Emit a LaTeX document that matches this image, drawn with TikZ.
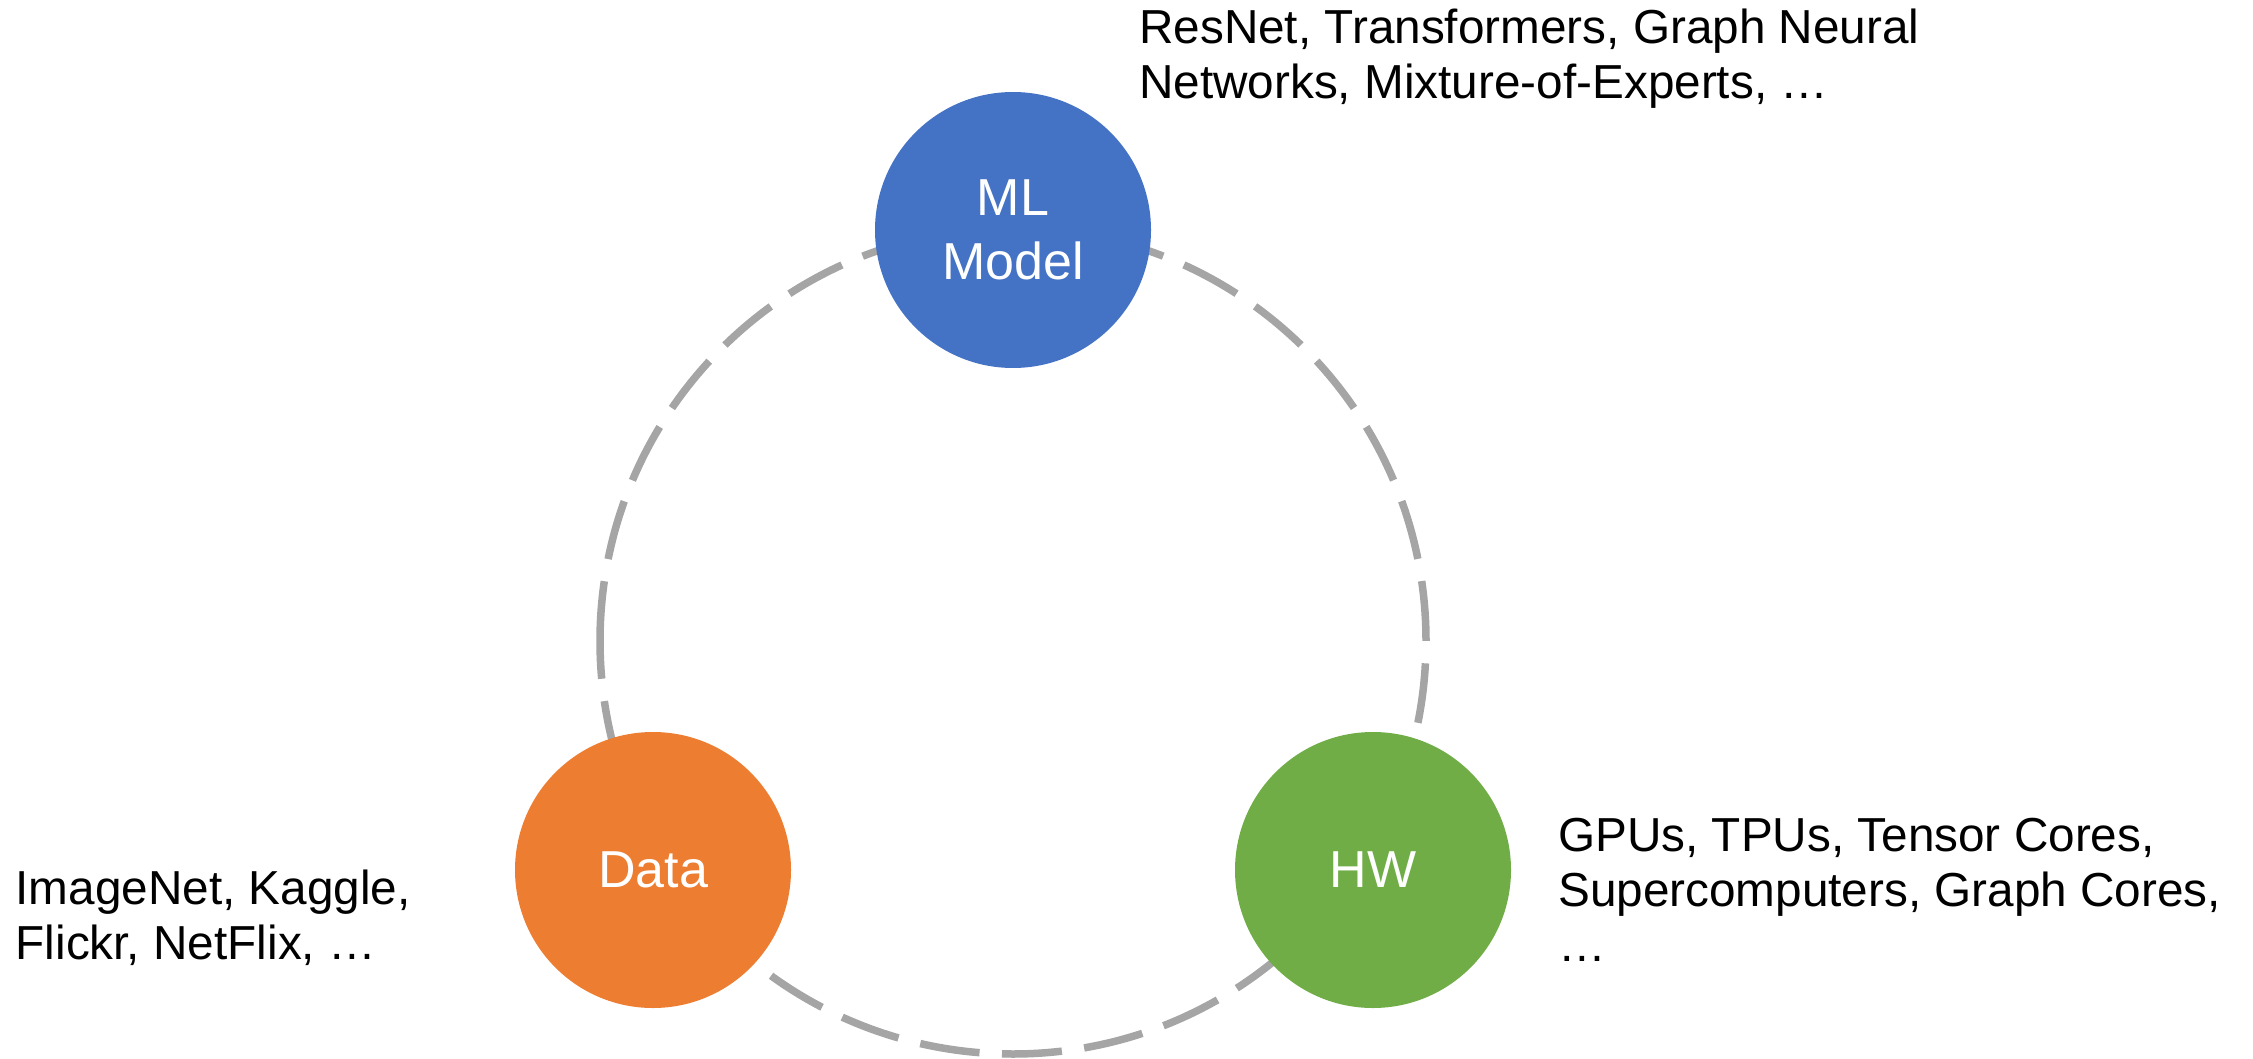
\documentclass[tikz,border=0pt]{standalone}
\usepackage{fontspec}
\setmainfont{Liberation Sans}
\definecolor{mlblue}{HTML}{4472C4}
\definecolor{dataorange}{HTML}{ED7D31}
\definecolor{hwgreen}{HTML}{70AD47}
\definecolor{ringgray}{HTML}{A5A5A5}
\newcommand{\notelines}[1]{\begin{tabular}[t]{@{}l@{}}#1\end{tabular}}
\begin{document}
\begin{tikzpicture}[x=1pt,y=-1pt,
  ball/.style={circle,draw=none,inner sep=0pt,minimum size=276pt,text=white,align=center,
    font=\fontsize{52}{64}\selectfont},
  note/.style={anchor=base west,inner sep=0pt,font=\fontsize{47.7}{55}\selectfont},
  ring/.style={draw=ringgray,line width=7.5pt,dash pattern=on 60pt off 22.5pt}]
\useasboundingbox (0,0) rectangle (2253,1059);
\coordinate (ringc) at (1013,641);
\draw[ring] (ringc) ++(-413,0) arc[start angle=180,end angle=540,radius=413];
\node[ball,fill=mlblue] (ml) at (1013,230) {ML\\Model};
\node[ball,fill=dataorange] (data) at (653,870) {Data};
\node[ball,fill=hwgreen] (hw) at (1373,870) {HW};
\node[note] (mlnote) at (1139,44) {\notelines{ResNet, Transformers, Graph Neural\\Networks, Mixture-of-Experts, …}};
\node[note] (datanote) at (15.5,904) {\notelines{ImageNet, Kaggle,\\Flickr, NetFlix, …}};
\node[note] (hwnote) at (1558,851) {\notelines{GPUs, TPUs, Tensor Cores,\\Supercomputers, Graph Cores,\\…}};
\end{tikzpicture}
\end{document}
